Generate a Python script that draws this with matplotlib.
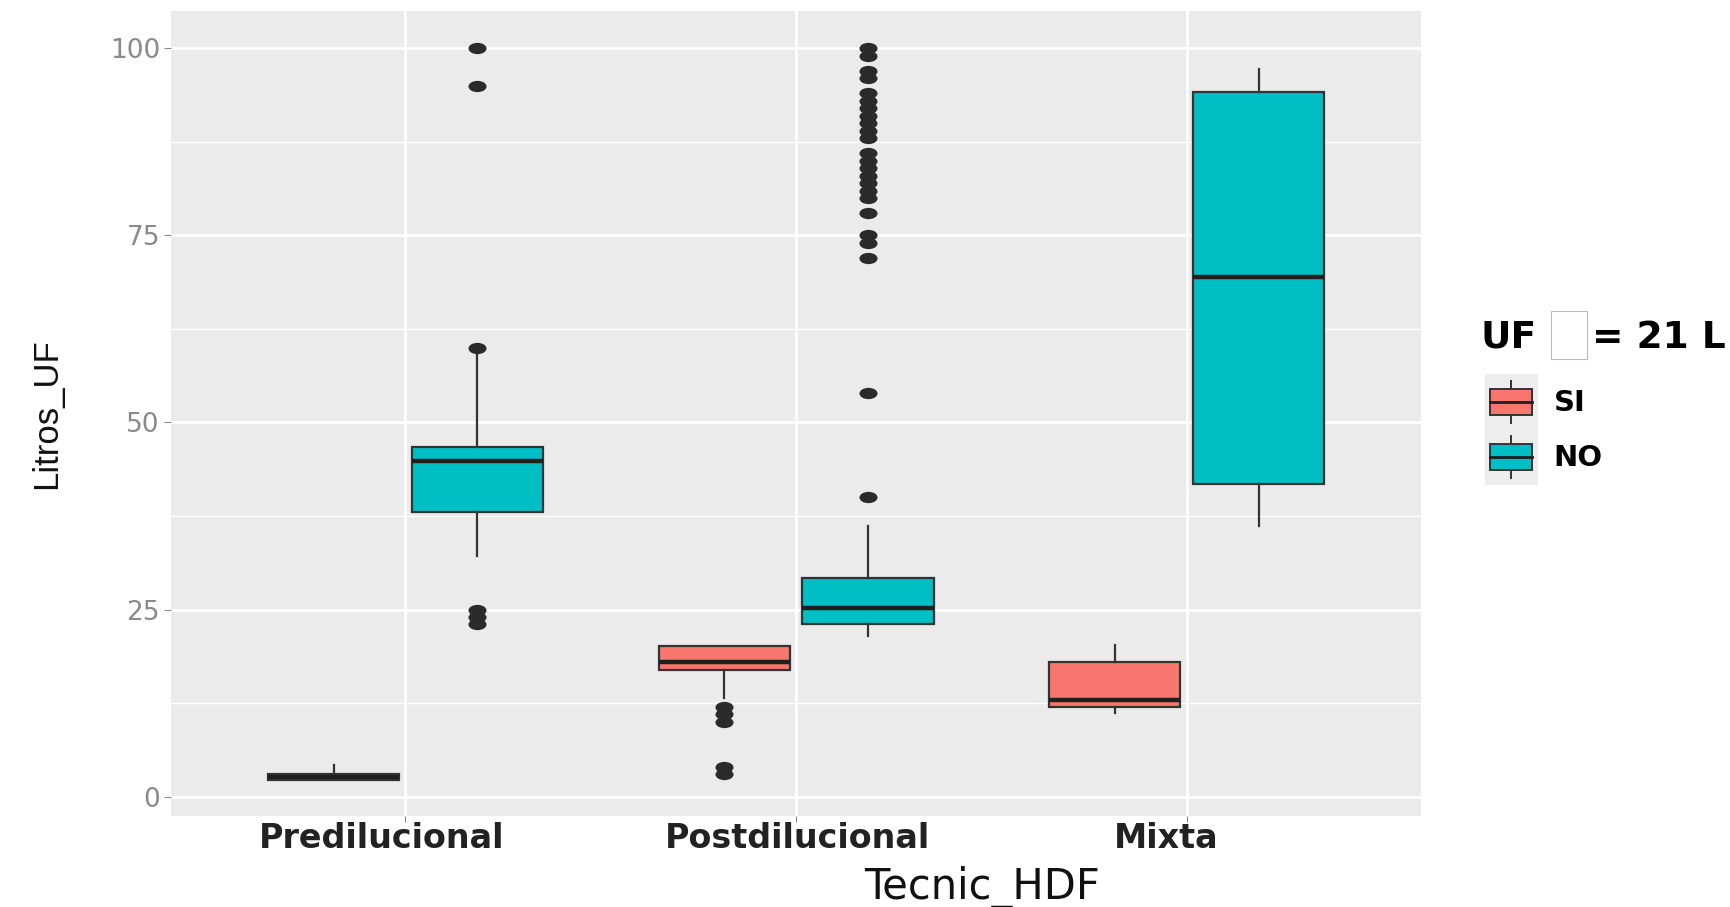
import matplotlib
matplotlib.use('Agg')
import matplotlib.pyplot as plt
from matplotlib.path import Path
from matplotlib.markers import MarkerStyle
from matplotlib.transforms import Affine2D
from matplotlib.legend_handler import HandlerBase
from matplotlib.patches import Rectangle, Patch
from matplotlib.lines import Line2D

# datos
categories = ['Predilucional', 'Postdilucional', 'Mixta']
groups = ['SI', 'NO']
group_colors = ['#F8766D', '#00BFC4']

si_lo = [2.2, 13.2, 11.2]
si_q1 = [2.2, 16.9, 12.0]
si_med = [2.6, 18.0, 12.9]
si_q3 = [3.0, 20.1, 18.0]
si_hi = [4.2, 20.1, 20.3]
si_out = [[], [12, 11, 10, 4, 3], []]

no_lo = [32.1, 21.5, 36.2]
no_q1 = [38.0, 23.1, 41.8]
no_med = [44.8, 25.2, 69.5]
no_q3 = [46.7, 29.2, 94.2]
no_hi = [59.5, 36.1, 97.2]
no_out = [[100, 95, 60, 25, 24, 23],
          [100, 99, 97, 96, 94, 93, 92, 91, 90, 89, 88, 86, 85, 84, 83,
           82, 81, 80, 78, 75, 74, 72, 54, 40],
          []]

yticks = [0, 25, 50, 75, 100]

W, H = 1730, 907
fig = plt.figure(figsize=(W / 100, H / 100), dpi=100)
ax = fig.add_axes([171 / W, 1 - 816 / H, 1250 / W, 805 / H])
ax.set_facecolor('#EBEBEB')

# puntos atipicos algo achatados, como en la imagen
ell = MarkerStyle(Path.unit_circle().transformed(Affine2D().scale(1.6, 1.0)))

box_w = 0.336
offs = [-0.184, 0.184]
all_stats = [
    (si_lo, si_q1, si_med, si_q3, si_hi, si_out),
    (no_lo, no_q1, no_med, no_q3, no_hi, no_out),
]
for g, (lo, q1, med, q3, hi, out) in enumerate(all_stats):
    stats = []
    for i in range(len(categories)):
        stats.append(dict(whislo=lo[i], q1=q1[i], med=med[i], q3=q3[i],
                          whishi=hi[i], fliers=out[i]))
    pos = [i + 1 + offs[g] for i in range(len(categories))]
    ax.bxp(stats, positions=pos, widths=box_w, patch_artist=True,
           showcaps=False,
           boxprops=dict(facecolor=group_colors[g], edgecolor='#333333', linewidth=1.6),
           medianprops=dict(color='#1f1f1f', linewidth=3.2),
           whiskerprops=dict(color='#333333', linewidth=1.6),
           flierprops=dict(marker=ell, markersize=13, markerfacecolor='#2b2b2b',
                           markeredgecolor='none'))

ax.set_xlim(0.4, 3.6)
ax.set_ylim(-2.6, 105)
ax.set_xticks([1, 2, 3])
ax.set_xticklabels(categories, fontsize=24, fontweight='bold', color='#222222')
ax.set_yticks(yticks)
ax.set_yticklabels([str(v) for v in yticks], fontsize=19, color='#8a8a8a')
ax.set_yticks([12.5, 37.5, 62.5, 87.5], minor=True)
ax.tick_params(axis='y', which='major', length=5, color='#8a8a8a', pad=3)
ax.tick_params(axis='x', which='major', length=4, color='#8a8a8a', pad=0)
ax.tick_params(which='minor', length=0)
ax.grid(which='major', color='white', linewidth=2.0)
ax.grid(which='minor', axis='y', color='white', linewidth=1.0)
ax.set_axisbelow(True)
for s in ax.spines.values():
    s.set_visible(False)

# las etiquetas de la imagen quedan un poco a la izquierda de la marca
shift = [-24, 2, -20]
for lab, dx in zip(ax.get_xticklabels(), shift):
    lab.set_transform(lab.get_transform() + Affine2D().translate(dx, 0))

ax.set_ylabel('Litros_UF', fontsize=25, family='Liberation Sans', color='#111111')
ax.yaxis.set_label_coords(-0.086, 0.5)
ax.set_xlabel('Tecnic_HDF', fontsize=30, color='#111111')
ax.xaxis.set_label_coords(0.649, -0.062)


class BoxKey(HandlerBase):
    def create_artists(self, legend, orig_handle, xdescent, ydescent,
                       width, height, fontsize, trans):
        x0, y0 = -xdescent, -ydescent
        bg = Rectangle((x0, y0), width, height, facecolor='#EDEDED',
                       edgecolor='none')
        cx = x0 + width / 2
        wl = Line2D([cx, cx], [y0 + 0.12 * height, y0 + 0.88 * height],
                    color='#333333', lw=1.4)
        bx = Rectangle((x0 + 0.1 * width, y0 + 0.27 * height), 0.8 * width,
                       0.46 * height, facecolor=orig_handle.get_facecolor(),
                       edgecolor='#333333', lw=1.4)
        md = Line2D([x0 + 0.1 * width, x0 + 0.9 * width], [y0 + height / 2] * 2,
                    color='#1f1f1f', lw=2)
        arts = [bg, wl, bx, md]
        for a in arts:
            a.set_transform(trans)
        return arts


handles = [Patch(facecolor=c) for c in group_colors]
leg = fig.legend(handles, groups, loc='upper left',
                 bbox_to_anchor=(1485 / W, 1 - 374 / H),
                 handler_map={Patch: BoxKey()}, frameon=False,
                 prop=dict(size=21, weight='bold'), borderpad=0,
                 borderaxespad=0, labelspacing=0, handlelength=1.8,
                 handleheight=2.55, handletextpad=0.55)

# titulo de la leyenda (el simbolo del original aparece en blanco)
ty = 1 - 338 / H
fig.text(1481 / W, ty, 'UF', fontsize=27, fontweight='bold', va='center', ha='left')
fig.text(1592 / W, ty, '= 21 L', fontsize=27, fontweight='bold', va='center', ha='left')
fig.patches.append(Rectangle((1551 / W, 1 - 359 / H), 36 / W, 48 / H,
                             transform=fig.transFigure, facecolor='white',
                             edgecolor='#bbbbbb', lw=0.8))

fig.savefig('out.png', dpi=100, facecolor='white')
